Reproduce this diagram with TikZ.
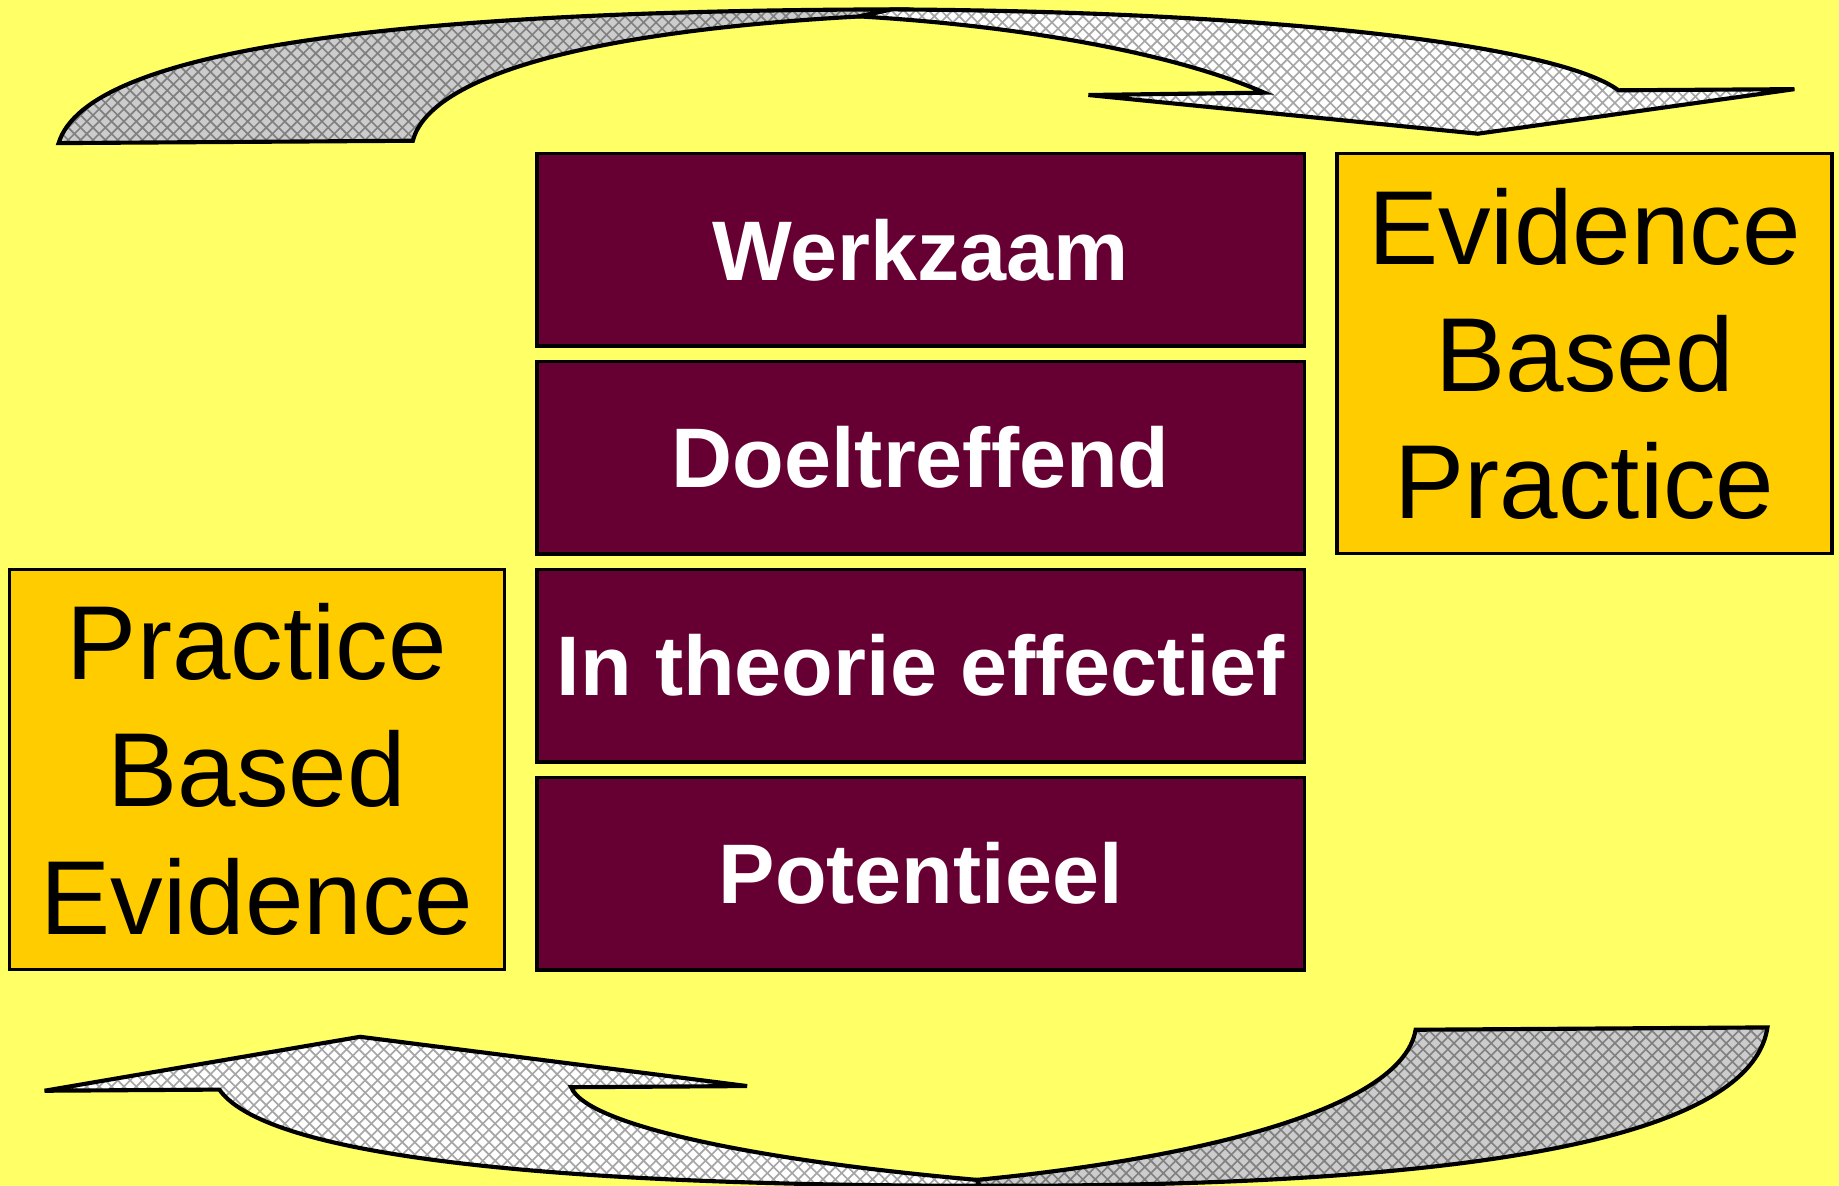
\documentclass[tikz,border=0pt]{standalone}
\usepackage{fontspec}
\setmainfont{Liberation Sans}
\usetikzlibrary{patterns}

\definecolor{bgyellow}{HTML}{FFFF66}
\definecolor{wine}{HTML}{660033}
\definecolor{amber}{HTML}{FFCC00}
\definecolor{ribbon}{HTML}{CCCCCC}

\begin{document}
\begin{tikzpicture}[x=0.01cm, y=-0.01cm,
                    level/.style={rectangle, draw=black, line width=0.8pt, fill=wine, text=white,
                                  minimum width=6.54cm, minimum height=1.64cm, inner sep=0pt,
                                  font=\fontsize{20.5}{24}\selectfont\bfseries},
                    side/.style={rectangle, draw=black, line width=0.8pt, fill=amber, align=center,
                                 minimum width=4.22cm, minimum height=3.41cm, inner sep=0pt,
                                 font=\fontsize{25.5}{30.8}\selectfont},
                    back/.style={line width=1pt, preaction={fill=ribbon}, pattern=crosshatch, pattern color=gray},
                    front/.style={line width=1pt, preaction={fill=white}, pattern=crosshatch, pattern color=gray!70}]

% Background
\fill[bgyellow] (0,0) rectangle (1568,1011);
\useasboundingbox (0,0) rectangle (1568,1011);

% Top arrow
\draw[back] (50,122) .. controls (75,40) and (350,9) .. (760,8) -- (733,14)
    .. controls (480,28) and (365,70) .. (352,120) -- cycle;
\draw[front] (733,14) -- (760,8) .. controls (1100,10) and (1330,40) .. (1380,77)
    -- (1530,76) -- (1260,114) -- (928,81) -- (1078,79)
    .. controls (1000,45) and (870,22) .. (733,14) -- cycle;

% Bottom arrow
\draw[back] (1207,878) -- (1507,876) .. controls (1490,990) and (1150,1012) .. (835,1011)
    -- (833,1006) .. controls (1000,990) and (1195,950) .. (1207,878) -- cycle;
\draw[front] (833,1006) .. controls (650,990) and (500,960) .. (487,927)
    -- (637,926) -- (307,884) -- (38,930) -- (187,929)
    .. controls (230,990) and (500,1011) .. (835,1011) -- cycle;

% Levels
\foreach \lab [count=\i] in {Werkzaam, Doeltreffend, In theorie effectief, Potentieel} {
    \node[level] (L\i) at (785, {213+177.3*(\i-1)}) {\lab};
}

% Side boxes
\node[side] (EBP) at (1351,301.5) {Evidence\\Based\\Practice};
\node[side] (PBE) at (219,656) {Practice\\Based\\Evidence};

\end{tikzpicture}
\end{document}
